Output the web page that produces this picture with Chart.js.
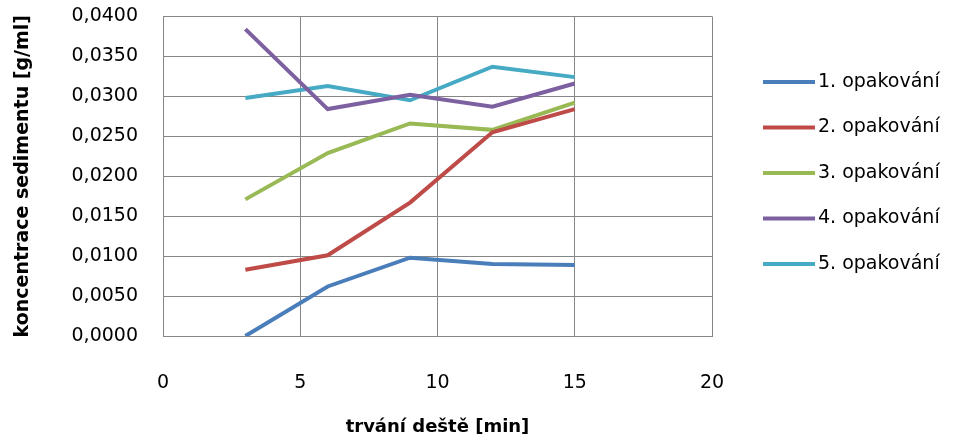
<!DOCTYPE html>
<html lang="cs">
  <head>
    <title>Koncentrace sedimentu</title>
    <meta charset="UTF-8" />
    <script src="https://cdn.jsdelivr.net/npm/chart.js@4/dist/chart.umd.min.js"></script>
    <style>
      body { margin: 0; background: #fff; }
      #wrap { width: 956px; height: 441px; }
    </style>
  </head>
  <body>
    <div id="wrap"><canvas id="graf"></canvas></div>
    <script>
      // cas v minutach
      var casy = [3, 6, 9, 12, 15];
      var nazvy = ['1. opakování', '2. opakování', '3. opakování', '4. opakování', '5. opakování'];
      var opak1 = [0.0000, 0.0062, 0.0098, 0.0090, 0.0089];
      var opak2 = [0.0083, 0.0101, 0.0167, 0.0255, 0.0284];
      var opak3 = [0.0171, 0.0229, 0.0266, 0.0258, 0.0292];
      var opak4 = [0.0384, 0.0284, 0.0302, 0.0287, 0.0316];
      var opak5 = [0.0298, 0.0313, 0.0295, 0.0337, 0.0324];
      var barvy = ['#4a7ebb', '#be4b48', '#98b954', '#7d60a0', '#46aac5'];

      var pismo = 'DejaVu Sans';
      var serie = [opak1, opak2, opak3, opak4, opak5];

      function body(hodnoty) {
        return casy.map(function (c, i) { return { x: c, y: hodnoty[i] }; });
      }

      var datasets = serie.map(function (s, i) {
        return {
          label: nazvy[i],
          data: body(s),
          borderColor: barvy[i],
          backgroundColor: barvy[i],
          borderWidth: 4,
          pointRadius: 0,
          tension: 0,
        };
      });

      // legenda vpravo
      var legenda = {
        id: 'legenda',
        afterDraw: function (chart) {
          var ctx = chart.ctx;
          ctx.save();
          ctx.font = '19px "' + pismo + '"';
          ctx.textBaseline = 'middle';
          ctx.textAlign = 'left';
          chart.data.datasets.forEach(function (ds, i) {
            var y = 82 + i * 45.5;
            ctx.strokeStyle = ds.borderColor;
            ctx.lineWidth = 4;
            ctx.beginPath();
            ctx.moveTo(763, y);
            ctx.lineTo(815, y);
            ctx.stroke();
            ctx.fillStyle = '#000';
            ctx.fillText(ds.label, 818, y);
          });
          ctx.restore();
        },
      };

      new Chart(document.getElementById('graf'), {
        type: 'line',
        data: { datasets: datasets },
        plugins: [legenda],
        options: {
          responsive: true,
          maintainAspectRatio: false,
          animation: false,
          layout: { padding: { left: 0, right: 244, top: 16, bottom: 0 } },
          plugins: {
            legend: { display: false },
            tooltip: { enabled: false },
          },
          scales: {
            x: {
              type: 'linear',
              min: 0,
              max: 20,
              ticks: { stepSize: 5, padding: 36, color: '#000', font: { family: pismo, size: 19 } },
              grid: { color: '#868686', lineWidth: 1, drawTicks: false },
              border: { color: '#868686' },
              title: {
                display: true,
                text: 'trvání deště [min]',
                color: '#000',
                font: { family: pismo, size: 18, weight: 'bold' },
                padding: { top: 0, bottom: 3 },
              },
              afterFit: function (s) { s.height = 105; },
            },
            y: {
              min: 0,
              max: 0.04,
              ticks: {
                stepSize: 0.005,
                padding: 5,
                color: '#000',
                font: { family: pismo, size: 19 },
                callback: function (v) { return v.toFixed(4).replace('.', ','); },
              },
              grid: { color: '#868686', lineWidth: 1, tickLength: 20, tickColor: 'rgba(0,0,0,0)' },
              border: { color: '#868686' },
              title: {
                display: true,
                text: 'koncentrace sedimentu [g/ml]',
                color: '#000',
                font: { family: pismo, size: 19, weight: 'bold' },
                padding: { top: 12, bottom: 0 },
              },
              afterFit: function (s) { s.width = 163; },
            },
          },
        },
      });
    </script>
  </body>
</html>
